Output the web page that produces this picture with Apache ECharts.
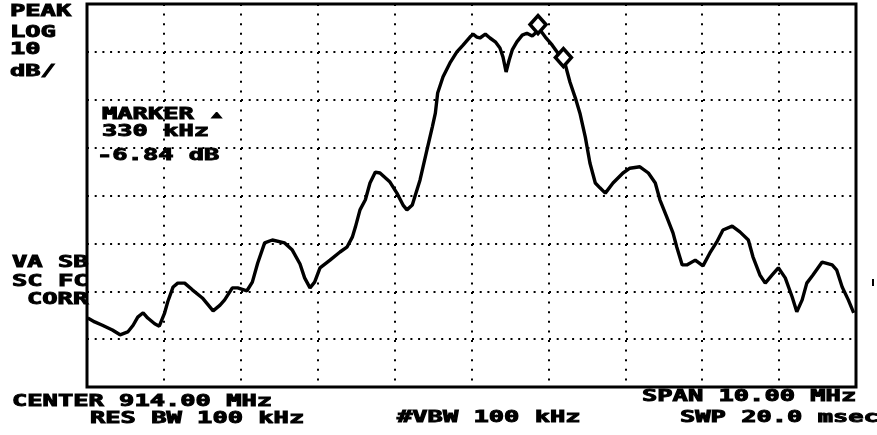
<!DOCTYPE html>
<html>
<head>
<meta charset="utf-8">
<script src="https://cdn.jsdelivr.net/npm/echarts@6/dist/echarts.min.js"></script>
<style>
html,body{margin:0;padding:0;background:#fff;}
#chart{width:877px;height:435px;}
</style>
</head>
<body>
<div id="chart"></div>
<script>
// ---- data ----
const freqMHz = [909.01,909.10,909.20,909.33,909.43,909.53,909.60,909.66,909.73,909.79,909.88,909.94,910.01,910.05,910.12,910.18,910.27,910.37,910.50,910.64,910.73,910.79,910.89,910.96,911.08,911.15,911.22,911.31,911.41,911.57,911.67,911.77,911.83,911.90,911.96,912.03,912.16,912.29,912.38,912.45,912.49,912.55,912.62,912.68,912.75,912.81,912.94,913.03,913.11,913.16,913.23,913.27,913.33,913.42,913.49,913.53,913.56,913.63,913.72,913.81,913.89,913.98,914.02,914.07,914.11,914.18,914.24,914.31,914.37,914.41,914.45,914.49,914.53,914.59,914.66,914.72,914.79,914.85,914.89,914.96,915.05,915.12,915.22,915.28,915.35,915.41,915.48,915.54,915.61,915.67,915.74,915.84,915.97,916.06,916.19,916.30,916.39,916.45,916.54,916.62,916.67,916.74,916.80,916.91,917.01,917.10,917.19,917.27,917.39,917.49,917.60,917.66,917.75,917.82,917.91,917.99,918.08,918.17,918.23,918.30,918.36,918.44,918.56,918.69,918.75,918.82,918.90,918.97];
const levelDb = [-65.6,-66.4,-67.1,-68.1,-69.1,-68.5,-67.1,-65.4,-64.5,-65.6,-66.8,-67.3,-64.5,-62.2,-59.1,-58.3,-58.3,-59.7,-61.4,-64.1,-62.9,-61.8,-59.3,-59.3,-59.9,-58.1,-54.1,-49.9,-49.3,-49.9,-51.4,-54.3,-57.2,-59.3,-58.1,-55.1,-53.5,-51.8,-50.8,-48.7,-46.6,-43.0,-40.9,-37.4,-35.1,-35.3,-37.2,-39.5,-42.0,-43.0,-42.0,-39.9,-36.8,-30.5,-25.7,-22.8,-18.6,-15.2,-12.3,-10.0,-8.6,-6.9,-6.3,-6.9,-7.1,-6.3,-7.1,-7.9,-9.2,-11.1,-14.2,-11.7,-9.6,-7.9,-6.5,-6.1,-6.7,-5.8,-5.4,-6.9,-8.6,-10.2,-12.7,-16.3,-19.6,-22.8,-27.8,-33.2,-37.4,-38.4,-39.5,-37.4,-35.3,-34.3,-34.0,-35.3,-37.4,-40.9,-44.5,-47.8,-50.8,-54.5,-54.5,-53.5,-54.7,-52.0,-49.7,-47.2,-46.4,-47.6,-49.3,-52.8,-56.6,-58.3,-56.6,-55.1,-57.2,-61.2,-64.3,-61.8,-58.3,-56.6,-53.9,-54.5,-55.6,-59.1,-61.8,-64.5];
const markerFreq = [914.865, 915.195];
const markerDb = [-4.3, -11.2];
const xMin = 909, xMax = 919, xStep = 1;
const yMin = -80, yMax = 0, yStep = 10;
const annotTexts = ['PEAK','LOG','10','dB/','MARKER \u25B4','330 kHz','-6.84 dB','VA SB','SC FC','CORR','CENTER 914.00 MHz','RES BW 100 kHz','#VBW 100 kHz','SPAN 10.00 MHz','SWP 20.0 msec'];

// ---- layout ----
const annotPos = [[10,5],[10,26],[10,43],[10,65],[102,108],[102,125],[97,149],[12,256],[12,275],[27,293],[12,395],[90,412],[397,411],[642,390],[680,411]];
const FONT_SIZE = 15;
const FONT = "bold " + FONT_SIZE + "px 'DejaVu Sans Mono'";
const PITCH = 15.3; // character pitch in px, as in the reference

const ctx = document.createElement('canvas').getContext('2d');
ctx.font = FONT;
const adv = ctx.measureText('MMMMMMMMMM').width / 10;
const SCALE_X = PITCH / adv;

const chart = echarts.init(document.getElementById('chart'), null, {renderer:'canvas'});
const graphics = annotTexts.map((t,i)=>({
  type:'text', x:annotPos[i][0], y:annotPos[i][1], scaleX:SCALE_X, silent:true,
  style:{text:t, font:FONT, fill:'#000', stroke:'#000', lineWidth:0.9, verticalAlign:'top', align:'left'}
}));
graphics.push({type:'rect', x:872, y:279, silent:true, shape:{width:2, height:7}, style:{fill:'#000'}});

chart.setOption({
  backgroundColor:'#fff',
  animation:false,
  grid:{left:87, top:4, width:769, height:383, show:true, borderColor:'#000', borderWidth:3, backgroundColor:'#fff'},
  xAxis:{type:'value', min:xMin, max:xMax, interval:xStep,
    axisLine:{show:false}, axisTick:{show:false}, axisLabel:{show:false},
    splitLine:{show:true, lineStyle:{color:'#000', width:2, type:[2,7.6]}}},
  yAxis:{type:'value', min:yMin, max:yMax, interval:yStep,
    axisLine:{show:false}, axisTick:{show:false}, axisLabel:{show:false},
    splitLine:{show:true, lineStyle:{color:'#000', width:2, type:[2,5.7]}}},
  series:[
    {type:'line', data:freqMHz.map((f,i)=>[f, levelDb[i]]), showSymbol:false, symbol:'none',
      lineStyle:{color:'#000', width:3.4}, z:3},
    {type:'scatter', data:markerFreq.map((f,i)=>[f, markerDb[i]]), symbol:'diamond', symbolSize:[16,18],
      itemStyle:{color:'#fff', borderColor:'#000', borderWidth:3.5, opacity:1}, z:4}
  ],
  graphic:graphics
});
</script>
</body>
</html>
